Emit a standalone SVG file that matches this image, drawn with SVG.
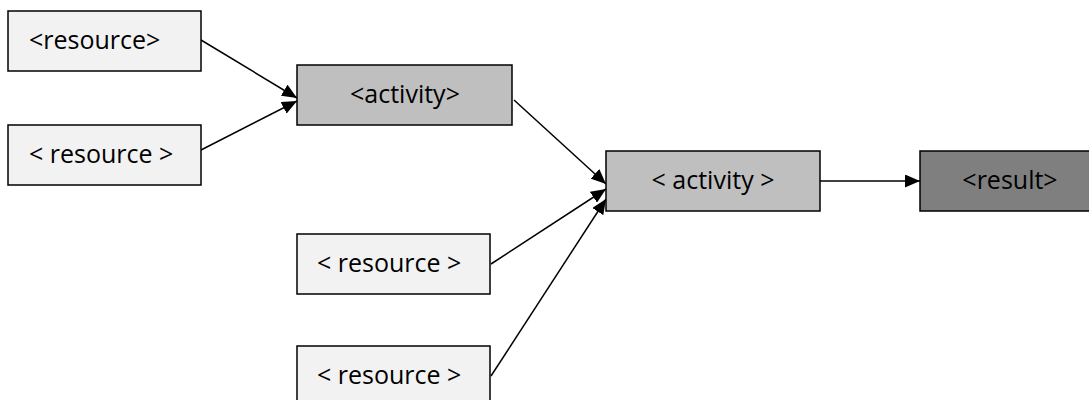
<svg xmlns="http://www.w3.org/2000/svg" width="1089" height="400" viewBox="0 0 1089 400">
<style>
.box{stroke:#000;stroke-width:1.5}
.res{fill:#f2f2f2}
.act{fill:#bfbfbf}
.out{fill:#7f7f7f}
text{font-family:"Open Sans","Noto Sans","Liberation Sans",sans-serif;font-size:25px;fill:#000}
.c{text-anchor:middle}
.conn{stroke:#000;stroke-width:1.5;fill:none;marker-end:url(#ah)}
</style>
<defs>
<marker id="ah" viewBox="0 0 15 13" refX="15" refY="6.5" markerWidth="15" markerHeight="13" markerUnits="userSpaceOnUse" orient="auto">
<path d="M0,0 L15,6.5 L0,13 Z" fill="#000"/>
</marker>
</defs>
<g id="connectors">
<line class="conn" x1="201" y1="40" x2="297" y2="98"/>
<line class="conn" x1="201" y1="150" x2="297" y2="101"/>
<line class="conn" x1="514" y1="100" x2="606" y2="184"/>
<line class="conn" x1="491" y1="264" x2="606" y2="189"/>
<line class="conn" x1="491" y1="376" x2="606" y2="199"/>
<line class="conn" x1="820" y1="181" x2="920" y2="181"/>
</g>
<g id="resource1"><rect class="box res" x="8" y="11" width="193" height="60"/><text x="29" y="49">&lt;resource&gt;</text></g>
<g id="resource2"><rect class="box res" x="8" y="125" width="193" height="60"/><text x="29" y="163">&lt; resource &gt;</text></g>
<g id="activity1"><rect class="box act" x="297" y="65" width="215" height="60"/><text class="c" x="405" y="103">&lt;activity&gt;</text></g>
<g id="resource3"><rect class="box res" x="297" y="234" width="193" height="60"/><text x="317" y="272">&lt; resource &gt;</text></g>
<g id="resource4"><rect class="box res" x="297" y="346" width="193" height="60"/><text x="317" y="384">&lt; resource &gt;</text></g>
<g id="activity2"><rect class="box act" x="606" y="151" width="214" height="60"/><text class="c" x="713" y="189">&lt; activity &gt;</text></g>
<g id="result"><rect class="box out" x="920" y="151" width="175" height="60"/><text class="c" x="1010" y="189">&lt;result&gt;</text></g>
</svg>
